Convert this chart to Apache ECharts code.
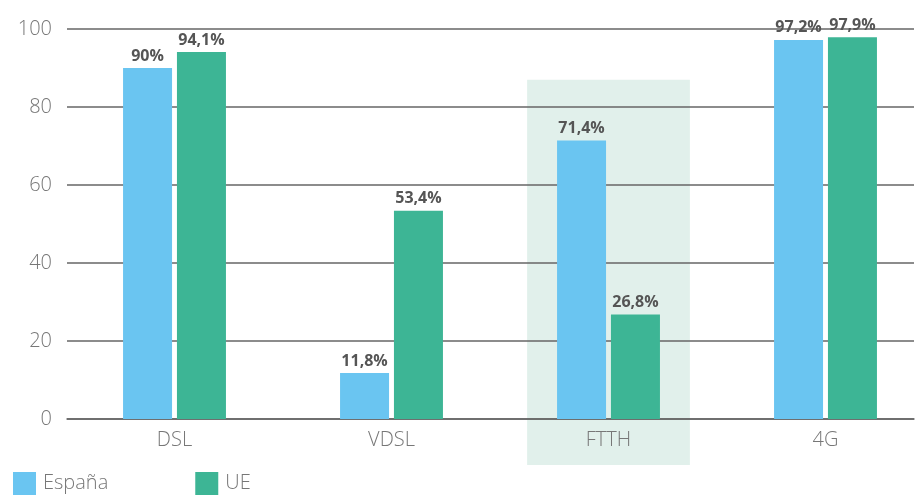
<!DOCTYPE html>
<html lang="es" style="height: 100%">
<head>
  <meta charset="utf-8">
</head>
<body style="height: 100%; margin: 0">
  <div id="container" style="width: 920px; height: 500px"></div>

  <script type="text/javascript" src="https://fastly.jsdelivr.net/npm/echarts@6/dist/echarts.min.js"></script>
  <script type="text/javascript">
    // datos
    var categorias = ['DSL', 'VDSL', 'FTTH', '4G'];
    var espana = [90, 11.8, 71.4, 97.2];
    var ue = [94.1, 53.4, 26.8, 97.9];
    // banda resaltada (categoria, valor inferior, valor superior)
    var resaltado = [['FTTH', -11.8, 87]];

    var dom = document.getElementById('container');
    var myChart = echarts.init(dom, null, { renderer: 'canvas' });

    function etiqueta(p) {
      return String(p.value).replace('.', ',') + '%';
    }

    var labelStyle = {
      show: true,
      position: 'top',
      distance: 4,
      formatter: etiqueta,
      color: '#555',
      fontFamily: 'Open Sans',
      fontWeight: 'bold',
      fontSize: 16
    };

    var option = {
      animation: false,
      textStyle: { fontFamily: 'Open Sans' },
      // grid 0: ejes y lineas de rejilla; grid 1: barras (bandas algo mas anchas)
      grid: [
        { left: 67, right: 6, top: 29, bottom: 81 },
        { left: 66, width: 868, top: 29, bottom: 81, outerBoundsMode: 'none', containLabel: false }
      ],
      legend: {
        data: ['España', 'UE'],
        left: 8,
        bottom: 0,
        itemWidth: 23,
        itemHeight: 23,
        itemGap: 87,
        icon: 'rect',
        textStyle: { color: '#777', fontSize: 20, fontWeight: 300, padding: [0, 0, 0, 2] }
      },
      xAxis: [
        {
          gridIndex: 0,
          type: 'category',
          data: categorias,
          axisTick: { show: false },
          axisLabel: { show: false },
          axisLine: { lineStyle: { color: '#666', width: 1.5 } }
        },
        {
          gridIndex: 1,
          type: 'category',
          data: categorias,
          axisTick: { show: false },
          axisLine: { show: false },
          axisLabel: { color: '#777', fontSize: 20, fontWeight: 300, margin: 11 }
        }
      ],
      yAxis: [
        {
          gridIndex: 0,
          type: 'value',
          min: 0,
          max: 100,
          interval: 20,
          axisLabel: { color: '#777', fontSize: 20, fontWeight: 300, margin: 15 },
          splitLine: { lineStyle: { color: '#666', width: 1.5 } }
        },
        {
          gridIndex: 1,
          type: 'value',
          min: 0,
          max: 100,
          interval: 20,
          show: false,
          splitLine: { show: false }
        }
      ],
      series: [
        {
          type: 'custom',
          name: 'banda',
          xAxisIndex: 1,
          yAxisIndex: 1,
          z: -1,
          clip: false,
          silent: true,
          data: resaltado,
          encode: { x: 0, y: [1, 2] },
          renderItem: function (params, api) {
            var v = api.value(0);
            var idx = typeof v === 'number' ? v : categorias.indexOf(v);
            var bajo = api.coord([idx, api.value(1)]);
            var alto = api.coord([idx, api.value(2)]);
            var ancho = api.size([1, 0])[0] * 0.75;
            return {
              type: 'rect',
              shape: { x: bajo[0] - ancho / 2, y: alto[1], width: ancho, height: bajo[1] - alto[1] },
              style: { fill: '#e1f0eb' }
            };
          }
        },
        {
          name: 'España',
          type: 'bar',
          xAxisIndex: 1,
          yAxisIndex: 1,
          data: espana,
          barWidth: 49,
          barGap: '10%',
          itemStyle: { color: '#6ac5f1' },
          label: labelStyle
        },
        {
          name: 'UE',
          type: 'bar',
          xAxisIndex: 1,
          yAxisIndex: 1,
          data: ue,
          barWidth: 49,
          itemStyle: { color: '#3db595' },
          label: labelStyle
        }
      ]
    };

    myChart.setOption(option);
    window.addEventListener('resize', myChart.resize);
  </script>
</body>
</html>
